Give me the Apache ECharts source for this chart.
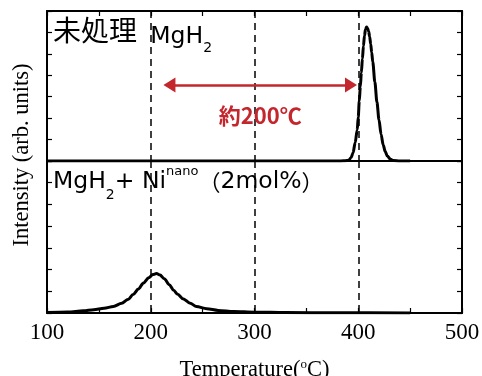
<!DOCTYPE html>
<html>
<head>
<meta charset="utf-8">
<script src="https://cdn.jsdelivr.net/npm/echarts@6/dist/echarts.min.js"></script>
<style>
  html, body { margin: 0; padding: 0; background: #fff; }
  #chart { width: 482px; height: 376px; }
</style>
</head>
<body>
<div id="chart"></div>
<script>
// Temperature axis (°C)
const tempMin = 100;
const tempMax = 500;
const tempStep = 100;

// Intensity axis (arb. units), one scale per panel
const intensityMax = 7;

// Untreated MgH2: desorption profile
const rawTemp = [100, 370, 380, 386, 389, 391, 393, 395, 397, 399, 400, 401, 402, 403, 404, 405, 406, 407, 408,
  409, 410, 411, 412, 413, 414, 416, 418, 420, 422, 424, 426, 428, 431, 434, 440, 450];
const rawIntensity = [0, 0, 0, 0.01, 0.02, 0.05, 0.15, 0.38, 0.85, 1.45, 2.05, 2.8, 3.46, 4.12, 4.77, 5.37, 5.84, 6.15, 6.25,
  6.2, 6.05, 5.8, 5.46, 5.06, 4.62, 3.69, 2.75, 1.92, 1.25, 0.76, 0.44, 0.23, 0.08, 0.02, 0, 0];

// MgH2 + Ni nano (2 mol%): desorption profile
const niTemp = [100, 120, 135, 145, 155, 164, 172, 178, 183, 188, 193, 198, 202, 205.5, 209, 213, 218, 222, 226,
  231, 238, 244, 254, 265, 280, 300, 330, 380, 450];
const niIntensity = [0.02, 0.05, 0.1, 0.15, 0.22, 0.3, 0.45, 0.62, 0.85, 1.1, 1.38, 1.62, 1.77, 1.82, 1.75, 1.58, 1.3, 1.05, 0.86,
  0.66, 0.45, 0.3, 0.2, 0.12, 0.07, 0.04, 0.02, 0.01, 0];

// Peak shift annotation: arrow between the two peak regions
const shiftFrom = 218;
const shiftTo = 393;
const shiftLevel = 3.55;
const shiftText = '約200℃';

const chart = echarts.init(document.getElementById('chart'), null, { renderer: 'canvas' });

const black = '#000';
const red = '#c4262e';
const serif = '"Liberation Serif", "Times New Roman", serif';
const cjk = '"Noto Sans CJK JP", "Noto Sans", sans-serif';
const latin = '"DejaVu Sans", "Noto Sans", sans-serif';

const pair = (xs, ys) => xs.map((x, i) => [x, ys[i]]);

function tempAxis(grid, position, opts) {
  return Object.assign({
    type: 'value',
    gridIndex: grid,
    position: position,
    min: tempMin,
    max: tempMax,
    interval: tempStep,
    axisLine: { show: true, onZero: false, lineStyle: { color: black, width: 2 } },
    axisTick: { show: false },
    minorTick: { show: false },
    axisLabel: { show: false },
    splitLine: { show: false }
  }, opts);
}

const ticksOn = {
  axisTick: { show: true, inside: true, length: 5, lineStyle: { color: black, width: 1.2 } },
  minorTick: { show: true, splitNumber: 2, length: 5, lineStyle: { color: black, width: 1.2 } },
  splitLine: { show: true, lineStyle: { color: black, width: 1.5, type: [7, 5] } }
};

function intensityAxis(grid, position) {
  return {
    type: 'value',
    gridIndex: grid,
    position: position,
    min: 0,
    max: intensityMax,
    interval: 1,
    axisLine: { show: true, onZero: false, lineStyle: { color: black, width: 2 } },
    axisTick: { show: true, inside: true, length: 5, lineStyle: { color: black, width: 1.2 } },
    axisLabel: { show: false },
    splitLine: { show: false }
  };
}

// Rich-text styles for the panel captions; every token hangs from the line top
// and its top padding sets the vertical offset (subscript / superscript).
const captionRich = {
  c: { fontFamily: cjk, fontSize: 28, color: black, verticalAlign: 'top', padding: [3, 0, 0, 0] },
  p: { fontFamily: cjk, fontSize: 22, color: black, verticalAlign: 'top', padding: [11, 0, 0, 0] },
  l: { fontFamily: latin, fontSize: 23.5, color: black, verticalAlign: 'top', padding: [10, 0, 0, 0] },
  lg: { fontFamily: latin, fontSize: 23.5, color: black, verticalAlign: 'top', padding: [12, 0, 0, 7] },
  sub: { fontFamily: latin, fontSize: 14, color: black, verticalAlign: 'top', padding: [28, 0, 0, 0] },
  sup: { fontFamily: latin, fontSize: 13, color: black, verticalAlign: 'top', padding: [5, 0, 0, 0] }
};

const option = {
  backgroundColor: '#fff',
  animation: false,
  grid: [
    { left: 47, right: 20, top: 11, height: 150, outerBoundsMode: 'none' },
    { left: 47, right: 20, top: 161, height: 152, outerBoundsMode: 'none' }
  ],
  xAxis: [
    tempAxis(0, 'top', ticksOn),
    tempAxis(0, 'bottom', {}),
    tempAxis(1, 'bottom', Object.assign({}, ticksOn, {
      axisLabel: {
        show: true, margin: 8, color: black,
        fontFamily: serif, fontSize: 23
      },
      name: '{t|Temperature(}{s|o}{t|C)}',
      nameLocation: 'middle',
      nameGap: 45,
      nameTextStyle: {
        color: black,
        rich: {
          t: { fontFamily: serif, fontSize: 22.5, color: black, lineHeight: 24 },
          s: { fontFamily: serif, fontSize: 13, color: black, lineHeight: 10, verticalAlign: 'top' }
        }
      }
    }))
  ],
  yAxis: [
    intensityAxis(0, 'left'),
    intensityAxis(0, 'right'),
    intensityAxis(1, 'left'),
    intensityAxis(1, 'right')
  ],
  series: [
    {
      type: 'line',
      xAxisIndex: 0,
      yAxisIndex: 0,
      data: pair(rawTemp, rawIntensity),
      smooth: 0.3,
      smoothMonotone: 'x',
      showSymbol: false,
      lineStyle: { color: black, width: 3 },
      markLine: {
        silent: true,
        symbol: ['triangle', 'triangle'],
        symbolSize: [15, 12],
        lineStyle: { color: red, width: 2.5, type: 'solid' },
        label: {
          show: true,
          position: 'insideMiddleBottom',
          distance: 20,
          formatter: shiftText,
          color: red,
          fontFamily: cjk,
          fontWeight: 'bold',
          fontSize: 22
        },
        data: [[
          { coord: [shiftFrom, shiftLevel] },
          { coord: [shiftTo, shiftLevel] }
        ]]
      }
    },
    {
      type: 'line',
      xAxisIndex: 2,
      yAxisIndex: 2,
      data: pair(niTemp, niIntensity),
      smooth: 0.3,
      smoothMonotone: 'x',
      showSymbol: false,
      lineStyle: { color: black, width: 3 }
    }
  ],
  graphic: [
    {
      type: 'text',
      x: 53, y: 13,
      style: {
        text: '{c|未処理 }{lg|MgH}{sub|2}',
        verticalAlign: 'top',
        rich: captionRich
      }
    },
    {
      type: 'text',
      x: 53, y: 160,
      style: {
        text: '{l|MgH}{sub|2}{l|+ Ni}{sup|nano}{p|（}{l|2mol%}{p|）}',
        verticalAlign: 'top',
        rich: captionRich
      }
    },
    {
      type: 'text',
      x: 22, y: 155,
      rotation: Math.PI / 2,
      style: {
        text: 'Intensity (arb. units)',
        fontFamily: serif,
        fontSize: 22.5,
        fill: black,
        align: 'center',
        verticalAlign: 'middle'
      }
    }
  ]
};

chart.setOption(option);
</script>
</body>
</html>
